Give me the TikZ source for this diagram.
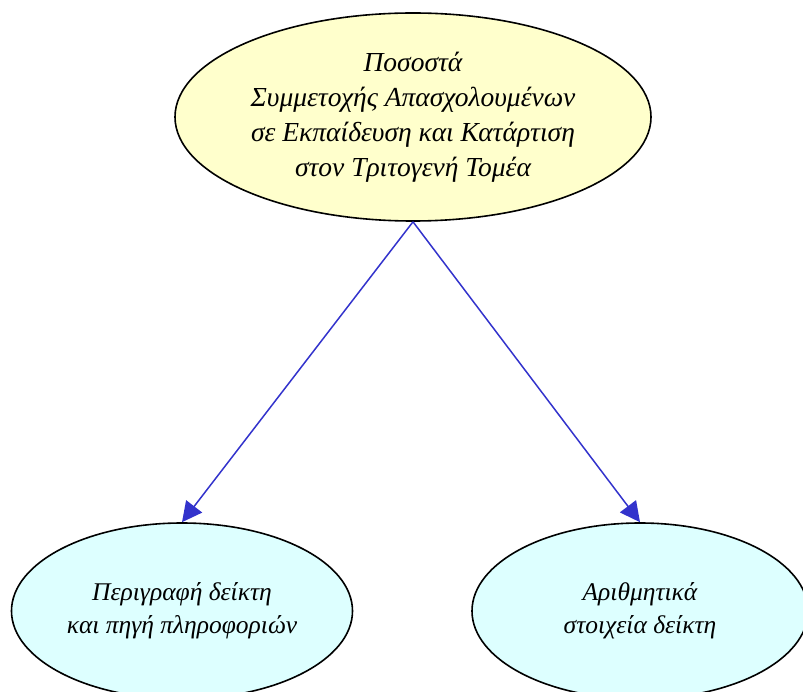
\documentclass[tikz,border=0pt]{standalone}
\usepackage{fontspec}
\setmainfont{Liberation Serif}
\usetikzlibrary{shapes.geometric,arrows.meta}
\definecolor{topfill}{HTML}{FFFFCC}
\definecolor{leaffill}{HTML}{DDFFFF}
\definecolor{edgeblue}{HTML}{3333CC}
\tikzset{
  oval/.style={ellipse, draw=black, line width=1.6pt, inner sep=0pt, align=center},
  bigtext/.style={font=\fontsize{27.5}{35}\selectfont\itshape},
  smalltext/.style={font=\fontsize{25.5}{33}\selectfont\itshape},
  conn/.style={draw=edgeblue, line width=1.5pt, -{Triangle[length=20pt,width=20pt]}}
}
\begin{document}
\begin{tikzpicture}[x=1pt,y=-1pt]
\useasboundingbox (0,0) rectangle (803,692);
\node[oval, bigtext, fill=topfill, minimum width=476pt, minimum height=208pt] (root) at (413,117)
  {Ποσοστά\\Συμμετοχής Απασχολουμένων\\σε Εκπαίδευση και Κατάρτιση\\στον Τριτογενή Τομέα};
\node[oval, smalltext, fill=leaffill, minimum width=341pt, minimum height=176pt] (desc) at (182,611)
  {Περιγραφή δείκτη\\και πηγή πληροφοριών};
\node[oval, smalltext, fill=leaffill, minimum width=336pt, minimum height=176pt] (num) at (640,611)
  {Αριθμητικά\\στοιχεία δείκτη};
\draw[conn] (root.south) -- (desc.north);
\draw[conn] (root.south) -- (num.north);
\end{tikzpicture}
\end{document}
